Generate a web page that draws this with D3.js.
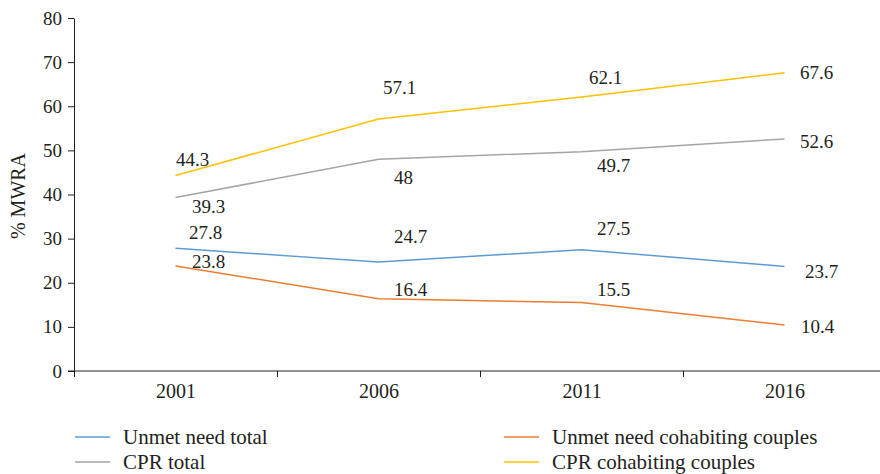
<!DOCTYPE html>
<html>
<head>
<meta charset="utf-8">
<script src="https://cdn.jsdelivr.net/npm/d3@7"></script>
<style>
  body { margin: 0; background: #fff; }
  svg text { font-family: "Liberation Serif", "Times New Roman", serif; fill: #231f20; }
</style>
</head>
<body>
<svg id="chart" width="880" height="474"></svg>
<script>
var years = ['2001', '2006', '2011', '2016'];
var unmetTotal = [27.8, 24.7, 27.5, 23.7];
var unmetCohab = [23.8, 16.4, 15.5, 10.4];
var cprTotal = [39.3, 48, 49.7, 52.6];
var cprCohab = [44.3, 57.1, 62.1, 67.6];
var yTicks = [0, 10, 20, 30, 40, 50, 60, 70, 80];

// series drawing order + label placement (pixel offsets from the point)
var series = [
  { name: 'Unmet need total', values: unmetTotal, color: '#5b9bd5',
    off: [[30, -16], [32, -26], [32, -21], [37, 5]] },
  { name: 'Unmet need cohabiting couples', values: unmetCohab, color: '#ed7d31',
    off: [[33, -5], [32, -9], [32, -13], [33, 1]] },
  { name: 'CPR total', values: cprTotal, color: '#a5a5a5',
    off: [[33, 9], [25, 18], [32, 14], [32, 2]] },
  { name: 'CPR cohabiting couples', values: cprCohab, color: '#ffc000',
    off: [[17, -16], [21, -32], [24, -20], [32, 0]] }
];

var svg = d3.select('#chart');
var fontSize = 19;

var x = d3.scalePoint().domain(years).range([74, 886]).padding(0.5);
var xBand = d3.scaleBand().domain(years).range([74, 886]);
var y = d3.scaleLinear().domain([0, 80]).range([371, 18]);

// y axis
var yAxis = svg.append('g')
  .attr('transform', 'translate(74,0)')
  .call(d3.axisLeft(y).tickValues(yTicks).tickSize(6).tickSizeOuter(0).tickPadding(6));
yAxis.selectAll('text').style('font-size', fontSize + 'px');

// x axis: labels at centers, ticks at band boundaries
var xAxis = svg.append('g')
  .attr('transform', 'translate(0,371)')
  .call(d3.axisBottom(x).tickSize(0).tickPadding(13));
xAxis.select('.domain').remove();
xAxis.selectAll('text').style('font-size', '20px');

svg.append('line')
  .attr('x1', 68).attr('x2', 880)
  .attr('y1', 371).attr('y2', 371)
  .attr('stroke', '#231f20');

svg.selectAll('line.xtick')
  .data(years)
  .enter()
  .append('line')
  .attr('class', 'xtick')
  .attr('x1', function (d) { return xBand(d) + 0.5; })
  .attr('x2', function (d) { return xBand(d) + 0.5; })
  .attr('y1', 371).attr('y2', 377)
  .attr('stroke', '#231f20');

svg.selectAll('.domain, .tick line').attr('stroke', '#231f20');

// y axis title
svg.append('text')
  .attr('transform', 'translate(25,196) rotate(-90)')
  .attr('text-anchor', 'middle')
  .style('font-size', '20px')
  .text('% MWRA');

// lines
var line = d3.line()
  .x(function (d, i) { return x(years[i]); })
  .y(function (d) { return y(d); });

series.forEach(function (s) {
  svg.append('path')
    .datum(s.values)
    .attr('d', line)
    .attr('fill', 'none')
    .attr('stroke', s.color)
    .attr('stroke-width', 1.5);
});

// data labels
series.forEach(function (s) {
  svg.append('g')
    .selectAll('text')
    .data(s.values)
    .enter()
    .append('text')
    .attr('x', function (d, i) { return x(years[i]) + s.off[i][0]; })
    .attr('y', function (d, i) { return y(d) + s.off[i][1]; })
    .attr('dy', '0.35em')
    .attr('text-anchor', 'middle')
    .style('font-size', fontSize + 'px')
    .text(function (d) { return d; });
});

// legend (2 columns)
var legendPos = [[75, 437], [504, 437], [75, 462], [504, 462]];
var leg = svg.append('g')
  .selectAll('g')
  .data(series)
  .enter()
  .append('g')
  .attr('transform', function (d, i) { return 'translate(' + legendPos[i][0] + ',' + legendPos[i][1] + ')'; });

leg.append('line')
  .attr('x1', 0).attr('x2', 35)
  .attr('stroke', function (d) { return d.color; })
  .attr('stroke-width', 1.5);

leg.append('text')
  .attr('x', 48)
  .attr('dy', '0.35em')
  .style('font-size', '21px')
  .text(function (d) { return d.name; });
</script>
</body>
</html>
